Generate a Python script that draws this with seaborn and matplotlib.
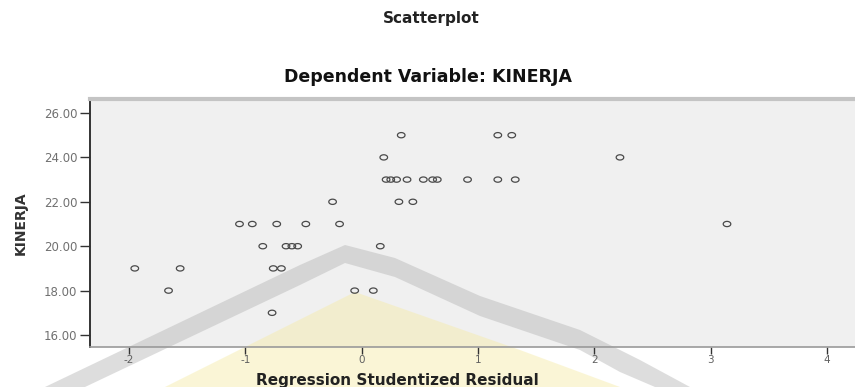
import numpy as np
import pandas as pd
import matplotlib
matplotlib.use("Agg")
import matplotlib.pyplot as plt
from matplotlib.patches import Polygon
import seaborn as sns

# ---- data ----
residual = [0.34, 1.17, 1.29,
            0.19, 2.22,
            0.21, 0.25, 0.30, 0.39, 0.53, 0.61, 0.65, 0.91, 1.17, 1.32,
            -0.25, 0.32, 0.44,
            -1.05, -0.94, -0.73, -0.48, -0.19, 3.14,
            -0.85, -0.65, -0.60, -0.55, 0.16,
            -1.95, -1.56, -0.76, -0.69,
            -1.66, -0.06, 0.10,
            -0.77]
kinerja = [25, 25, 25,
           24, 24,
           23, 23, 23, 23, 23, 23, 23, 23, 23, 23,
           22, 22, 22,
           21, 21, 21, 21, 21, 21,
           20, 20, 20, 20, 20,
           19, 19, 19, 19,
           18, 18, 18,
           17]
x_ticks = [-2, -1, 0, 1, 2, 3, 4]
y_ticks = [16, 18, 20, 22, 24, 26]

df = pd.DataFrame({"Regression Studentized Residual": residual, "KINERJA": kinerja})

sns.set_style("white")
plt.rcParams["font.family"] = ["DejaVu Sans"]

W, H = 855, 387
fig = plt.figure(figsize=(W / 100, H / 100), dpi=100)
fig.patch.set_facecolor("white")
ax = fig.add_axes([90 / W, 1 - 347 / H, 1 - 90 / W, (347 - 99) / H])
ax.set_facecolor("#F0F0F0")

# elliptical open marker (image is horizontally stretched)
t = np.linspace(0, 2 * np.pi, 40)
ell = list(zip(1.45 * np.cos(t), np.sin(t)))

sns.scatterplot(data=df, x="Regression Studentized Residual", y="KINERJA", ax=ax,
                marker=ell, s=30, facecolors="none", edgecolor="#4a4a4a",
                linewidth=0.9, zorder=3)

ax.set_xlim(-2.335, 4.24)
ax.set_ylim(15.46, 26.63)
ax.set_xticks(x_ticks)
ax.set_xticklabels([str(v) for v in x_ticks])
ax.set_yticks(y_ticks)
ax.set_yticklabels([f"{v:.2f}" for v in y_ticks])
ax.tick_params(axis="y", length=7, width=1.0, color="#333333", labelsize=8.5,
               labelcolor="#707070", pad=2, left=True)
ax.tick_params(axis="x", length=5, width=1.0, color="#333333", labelsize=7.5,
               labelcolor="#606060", pad=1, bottom=True)

ax.spines["right"].set_visible(False)
ax.spines["left"].set_color("#333333")
ax.spines["left"].set_linewidth(1.4)
ax.spines["bottom"].set_color("#9a9a9a")
ax.spines["bottom"].set_linewidth(1.2)
ax.spines["top"].set_color("#c4c4c4")
ax.spines["top"].set_linewidth(3)

ax.set_xlabel("Regression Studentized Residual", fontsize=11, fontweight="bold",
              color="#222222")
ax.xaxis.set_label_coords((397 - 90) / (W - 90), -(380 - 347) / (347 - 99), transform=ax.transAxes)
ax.xaxis.label.set_va("center")
ax.set_ylabel("KINERJA", fontsize=10, fontweight="bold", color="#333333")
ax.yaxis.set_label_coords(-(90 - 21) / (W - 90), 0.5, transform=ax.transAxes)
ax.yaxis.label.set_va("center")

fig.text(431 / W, 1 - 18 / H, "Scatterplot", ha="center", va="center",
         fontsize=11, fontweight="bold", color="#222222")
fig.text(428 / W, 1 - 77 / H, "Dependent Variable: KINERJA", ha="center",
         va="center", fontsize=12.5, fontweight="bold", color="#111111")

# watermark (decorative background logo)
def fpx(pts):
    return [(x / W, 1 - y / H) for x, y in pts]

gray = [(45, 387), (300, 265), (345, 245), (395, 258), (480, 296), (580, 330),
        (640, 360), (690, 387), (655, 387), (620, 372), (580, 350), (480, 316),
        (395, 277), (345, 263), (300, 285), (85, 387)]
yellow = [(165, 387), (355, 292), (520, 350), (620, 387)]
ax.add_patch(Polygon(fpx(yellow), closed=True, transform=fig.transFigure,
                     facecolor="#F6EBA5", edgecolor="none", alpha=0.45,
                     clip_on=False, zorder=0.3))
ax.add_patch(Polygon(fpx(gray), closed=True, transform=fig.transFigure,
                     facecolor="#B5B5B5", edgecolor="none", alpha=0.45,
                     clip_on=False, zorder=0.3))

fig.savefig("out.png", dpi=100)
